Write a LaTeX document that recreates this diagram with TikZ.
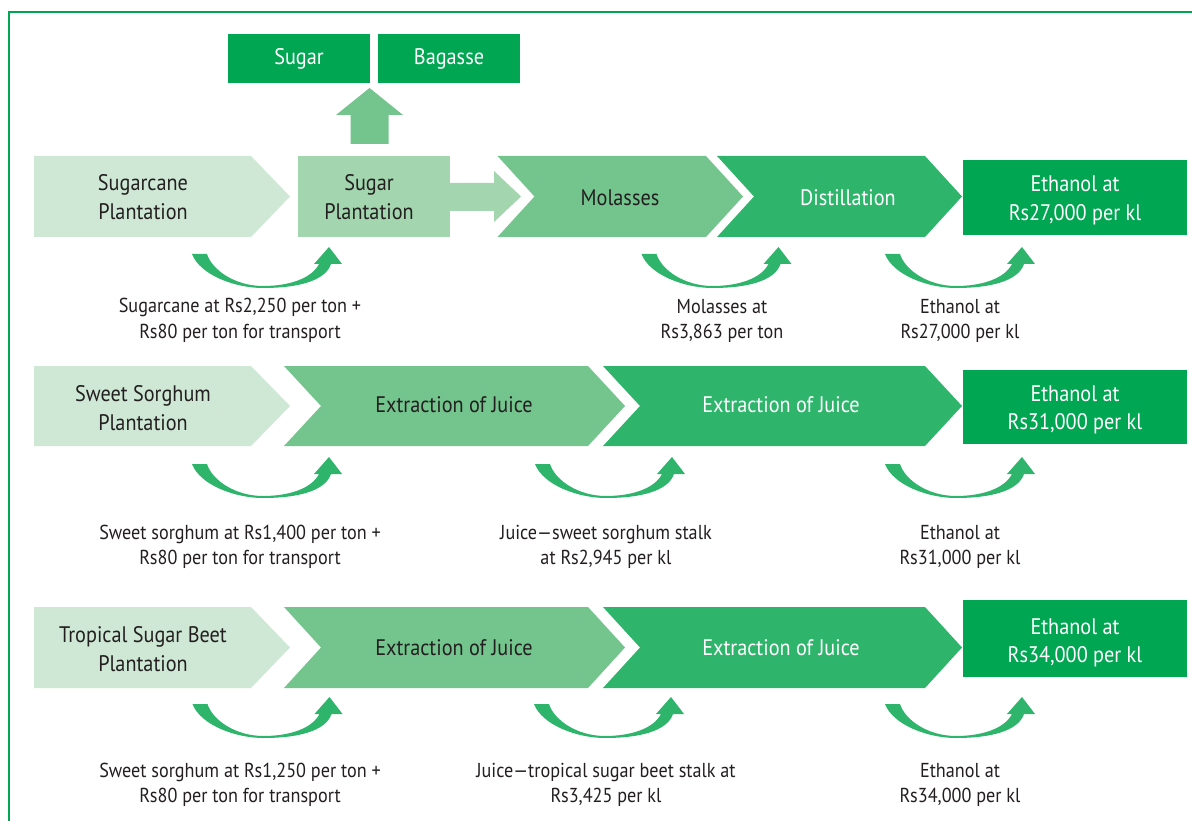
\documentclass[tikz,border=0pt]{standalone}
\usepackage{fontspec}
\setmainfont{PT Sans}[FakeStretch=0.9]
\definecolor{cA}{HTML}{CFE8D5}
\definecolor{cB}{HTML}{A3D5AE}
\definecolor{cC}{HTML}{74C48D}
\definecolor{cD}{HTML}{2EB56B}
\definecolor{cE}{HTML}{00A651}
\definecolor{ink}{HTML}{231F20}
\tikzset{
  btxt/.style={font=\fontsize{22.5}{28.5}\selectfont, align=center, text=ink, inner sep=0pt},
  wtxt/.style={btxt, text=white},
  ltxt/.style={font=\fontsize{20.2}{25.5}\selectfont, align=center, text=ink, inner sep=0pt},
  swoosh/.pic={\fill[cD] (0,0) .. controls (8,21) and (43,34) .. (71,34)
     .. controls (103,34) and (133,28) .. (139,10) -- (150,10) -- (137,-7) -- (122,10) -- (127,10)
     .. controls (120,24) and (98,32) .. (71,32) .. controls (43,32) and (20,16) .. (15,0) -- cycle;}
}
\begin{document}
\begin{tikzpicture}[x=1pt,y=-1pt]
\useasboundingbox (0,0) rectangle (1192,821);
\fill[white] (0,0) rectangle (1192,821);
% frame
\draw[cE, line width=2pt] (9.3,821) -- (9.3,12) -- (1192,12);

% ---------- row 1 ----------
\fill[cA] (34,156) -- (251,156) -- (290,196.5) -- (251,237) -- (34,237) -- cycle;
\fill[cB] (298,156) rectangle (450,237);
\fill[cB] (450,183) -- (494,183) -- (494,171) -- (521,196.5) -- (494,222) -- (494,211) -- (450,211) -- cycle;
\fill[cC] (350.5,144) -- (350.5,115) -- (336,115) -- (369.5,88) -- (403,115) -- (388.5,115) -- (388.5,144) -- cycle;
\node[fill=cE, minimum width=142pt, minimum height=49pt, wtxt] (sugar) at (299,58.5) {Sugar};
\node[fill=cE, minimum width=142pt, minimum height=49pt, wtxt] (bagasse) at (449,58.5) {Bagasse};
\fill[cC] (497.5,156) -- (706,156) -- (743,196.5) -- (706,237) -- (497.5,237) -- (534.5,196.5) -- cycle;
\fill[cD] (717,156) -- (925,156) -- (962,196.5) -- (925,237) -- (717,237) -- (754,196.5) -- cycle;
\fill[cE] (963,160) rectangle (1187,235);

\node[btxt] (p1) at (143,197) {Sugarcane\\Plantation};
\node[btxt] (sp) at (369,197) {Sugar\\Plantation};
\node[btxt] (mol) at (620,198) {Molasses};
\node[wtxt] (dist) at (848,198) {Distillation};
\node[wtxt] (e1) at (1075,200.5) {Ethanol at\\Rs27,000 per kl};

\pic at (192,254) {swoosh};
\pic at (641.5,254) {swoosh};
\pic at (885,254) {swoosh};
\node[ltxt] (l1a) at (240,320.5) {Sugarcane at Rs2,250 per ton +\\Rs80 per ton for transport};
\node[ltxt] (l1b) at (722,321) {Molasses at\\Rs3,863 per ton};
\node[ltxt] (l1c) at (960,321) {Ethanol at\\Rs27,000 per kl};

% ---------- row 2 ----------
\fill[cA] (34,366) -- (251,366) -- (290,406) -- (251,446) -- (34,446) -- cycle;
\fill[cC] (284,366) -- (588,366) -- (625,406) -- (588,446) -- (284,446) -- (321,406) -- cycle;
\fill[cD] (603,366) -- (925,366) -- (962,406) -- (925,446) -- (603,446) -- (640,406) -- cycle;
\fill[cE] (963,370) rectangle (1187,444);

\node[btxt] (p2) at (143,408) {Sweet Sorghum\\Plantation};
\node[btxt] (x21) at (454,405) {Extraction of Juice};
\node[wtxt] (x22) at (781,405) {Extraction of Juice};
\node[wtxt] (e2) at (1075,410) {Ethanol at\\Rs31,000 per kl};

\pic at (192,464) {swoosh};
\pic at (535,464) {swoosh};
\pic at (885,464) {swoosh};
\node[ltxt] (l2a) at (240,547) {Sweet sorghum at Rs1,400 per ton +\\Rs80 per ton for transport};
\node[ltxt] (l2b) at (606,547) {Juice—sweet sorghum stalk\\at Rs2,945 per kl};
\node[ltxt] (l2c) at (960,547) {Ethanol at\\Rs31,000 per kl};

% ---------- row 3 ----------
\fill[cA] (34,607) -- (251,607) -- (290,647.5) -- (251,688) -- (34,688) -- cycle;
\fill[cC] (284,607) -- (588,607) -- (625,647.5) -- (588,688) -- (284,688) -- (321,647.5) -- cycle;
\fill[cD] (603,607) -- (925,607) -- (962,647.5) -- (925,688) -- (603,688) -- (640,647.5) -- cycle;
\fill[cE] (963,600) rectangle (1187,677);

\node[btxt] (p3) at (143,649) {Tropical Sugar Beet\\Plantation};
\node[btxt] (x31) at (454,648) {Extraction of Juice};
\node[wtxt] (x32) at (781,648) {Extraction of Juice};
\node[wtxt] (e3) at (1075,643) {Ethanol at\\Rs34,000 per kl};

\pic at (192.5,704) {swoosh};
\pic at (534,704) {swoosh};
\pic at (885,704) {swoosh};
\node[ltxt] (l3a) at (240,785) {Sweet sorghum at Rs1,250 per ton +\\Rs80 per ton for transport};
\node[ltxt] (l3b) at (606,785) {Juice—tropical sugar beet stalk at\\Rs3,425 per kl};
\node[ltxt] (l3c) at (960,785) {Ethanol at\\Rs34,000 per kl};
\end{tikzpicture}
\end{document}
